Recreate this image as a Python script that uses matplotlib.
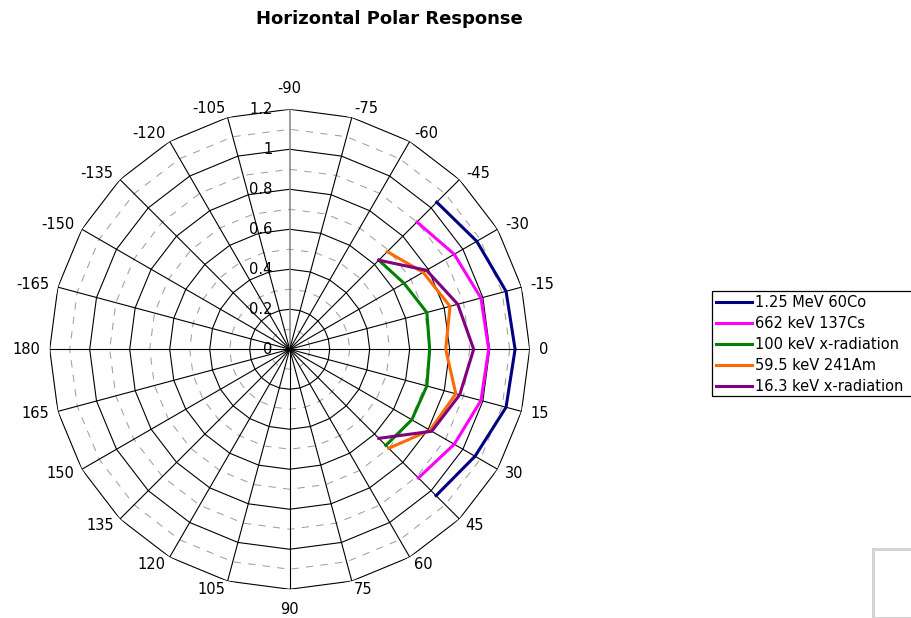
import numpy as np
import matplotlib
matplotlib.use('Agg')
import matplotlib.pyplot as plt
from matplotlib.patches import Rectangle

# angles (deg) and relative response values
angles = [-45, -30, -15, 0, 15, 30, 45]
co60 = [1.04, 1.08, 1.12, 1.127, 1.12, 1.07, 1.035]
cs137 = [0.90, 0.95, 0.99, 0.995, 0.99, 0.95, 0.91]
xray100 = [0.63, 0.66, 0.71, 0.70, 0.71, 0.705, 0.68]
am241 = [0.69, 0.77, 0.83, 0.78, 0.86, 0.81, 0.70]
xray16 = [0.63, 0.79, 0.87, 0.92, 0.88, 0.82, 0.63]

series_names = ['1.25 MeV 60Co', '662 keV 137Cs', '100 keV x-radiation',
                '59.5 keV 241Am', '16.3 keV x-radiation']
series_colors = ['#000080', '#ff00ff', '#008000', '#ff6a00', '#800080']
series = [co60, cs137, xray100, am241, xray16]

spoke_angles = list(range(-165, 181, 15))
ring_major = [0.2, 0.4, 0.6, 0.8, 1.0, 1.2]
ring_minor = [0.1, 0.3, 0.5, 0.7, 0.9, 1.1]
r_labels = ['0', '0.2', '0.4', '0.6', '0.8', '1', '1.2']

fs = 10.5

fig = plt.figure(figsize=(9.12, 6.18), dpi=100)
ax = fig.add_axes([0.0545, 0.0465, 0.5263, 0.7767], projection='polar')
ax.set_theta_zero_location('E')
ax.set_theta_direction(-1)
ax.set_ylim(0, 1.2)
ax.grid(False)
ax.set_xticks([])
ax.set_yticks([])
ax.spines['polar'].set_visible(False)

full = np.radians(np.arange(0, 361, 15))
# polygon rings
for r in ring_minor:
    ax.plot(full, np.full(len(full), r), color='#a0a0a0', lw=0.75,
            linestyle=(0, (7, 7)), zorder=1)
for r in ring_major:
    ax.plot(full, np.full(len(full), r), color='black', lw=0.8, zorder=2)
# spokes
for a in spoke_angles:
    c = '#808080' if a == -90 else 'black'
    ax.plot([np.radians(a), np.radians(a)], [0, 1.2], color=c,
            lw=1.1 if a == -90 else 0.8, zorder=2)

# angle labels, placed just outside the end of each spoke
for a in spoke_angles:
    t = np.radians(a)
    if a in (-90, 90):
        off = (0, -13 if a == 90 else 13)
        ha = 'center'
        va = 'top' if a == 90 else 'bottom'
    else:
        off = (9 * np.cos(t), -9 * np.sin(t))
        ha = 'left' if abs(a) < 90 else 'right'
        va = 'center'
    ax.annotate(str(a), xy=(t, 1.2), xytext=off, textcoords='offset pixels',
                ha=ha, va=va, fontsize=fs, annotation_clip=False)

# radial labels
for r, lab in zip([0] + ring_major, r_labels):
    ax.annotate(lab, xy=(np.radians(-90), r), xytext=(-17, 0),
                textcoords='offset pixels', ha='right', va='center', fontsize=fs)

th = np.radians(angles)
for vals, name, col in zip(series, series_names, series_colors):
    ax.plot(th, vals, color=col, lw=2.2, label=name, zorder=5)

fig.text(389 / 912, 1 - 19 / 618, 'Horizontal Polar Response', ha='center',
         va='center', fontsize=13, fontweight='bold')

leg = fig.legend(loc='upper left', bbox_to_anchor=(711.7 / 912, 1 - 291 / 618),
                 borderaxespad=0, fontsize=fs, handlelength=2.45,
                 handletextpad=0.2, borderpad=0.3, labelspacing=0.4,
                 frameon=False)

# legend box runs off the right edge in the original
fig.patches.append(Rectangle((711.7 / 912, 1 - 395.7 / 618), 0.3, 104.7 / 618,
                             transform=fig.transFigure, fill=False,
                             edgecolor='black', lw=0.9))

fig.patches.append(Rectangle((873 / 912, 0), 0.2, (618 - 549) / 618,
                             transform=fig.transFigure, fill=False,
                             edgecolor='#d4d4d4', lw=2.2))

fig.savefig('out.png', dpi=100)
